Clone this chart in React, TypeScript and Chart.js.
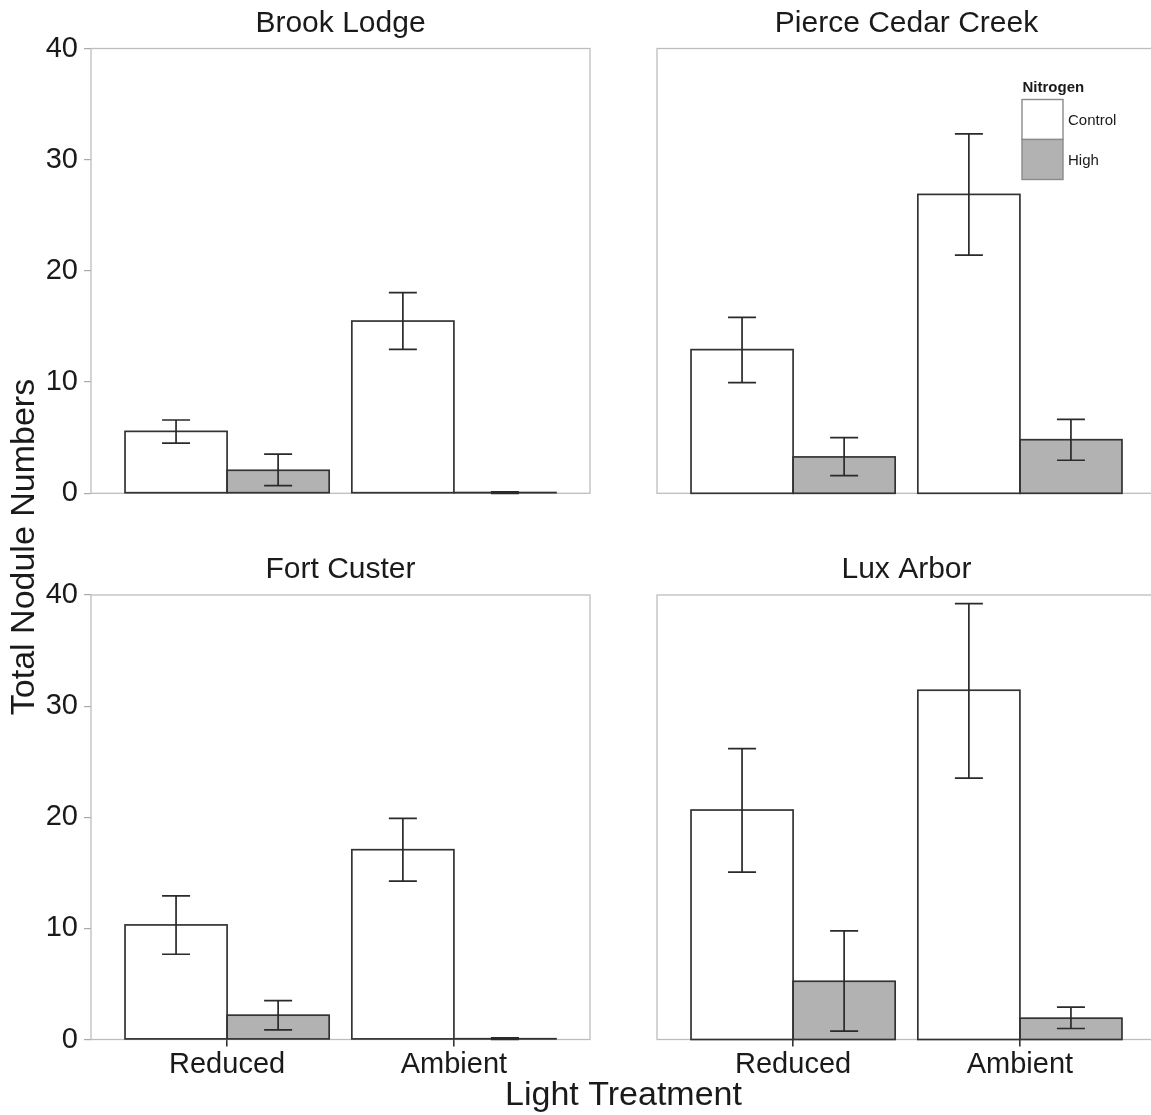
import React, { useEffect, useRef } from 'react';
import { Chart, registerables } from 'chart.js';

Chart.register(...registerables);

// ---------------- data ----------------
const sites = ['Brook Lodge', 'Pierce Cedar Creek', 'Fort Custer', 'Lux Arbor'];
const lightLevels = ['Reduced', 'Ambient'];
const nitrogenLevels = ['Control', 'High'];
const legendTitle = 'Nitrogen';
const xAxisTitle = 'Light Treatment';
const yAxisTitle = 'Total Nodule Numbers';
const yTickStep = 10;
const yMin = 0;
const yMax = 40;

// per site: [Reduced, Ambient]
const controlMean = [[5.57, 15.49], [12.92, 26.88], [10.31, 17.08], [20.65, 31.43]];
const controlLower = [[4.52, 12.94], [9.95, 21.42], [7.67, 14.26], [15.07, 23.52]];
const controlUpper = [[6.59, 18.04], [15.82, 32.33], [12.92, 19.9], [26.18, 39.22]];
const highMean = [[2.07, 0.07], [3.27, 4.82], [2.19, 0.07], [5.24, 1.92]];
const highLower = [[0.69, 0.0], [1.59, 2.97], [0.87, 0.0], [0.75, 0.99]];
const highUpper = [[3.53, 0.14], [5.0, 6.65], [3.5, 0.14], [9.77, 2.91]];

// ---------------- styles / layout ----------------
const FONT = "'Liberation Sans', Arial, Helvetica, sans-serif";
const CW = 1160;
const CH = 1115;
const PANELS = [
  { left: 91, top: 48.5, right: 590, bottom: 493.3 },
  { left: 657, top: 48.5, right: 1156, bottom: 493.3 },
  { left: 91, top: 595, right: 590, bottom: 1039.5 },
  { left: 657, top: 595, right: 1156, bottom: 1039.5 },
];
const Y_AXIS_W = 51;
const X_AXIS_H = 45;
const FILLS = ['#ffffff', '#b2b2b2'];
const OUTLINE = '#333333';
const TEXT = '#1a1a1a';

function makeConfig(i: number): any {
  const p = PANELS[i];
  const showY = i % 2 === 0;
  const showX = i >= 2;
  const means = [controlMean[i], highMean[i]];
  const lowers = [controlLower[i], highLower[i]];
  const uppers = [controlUpper[i], highUpper[i]];

  const framePlugin = {
    id: 'frame' + i,
    beforeDatasetsDraw(chart: any) {
      const { ctx, chartArea: a } = chart;
      ctx.save();
      ctx.strokeStyle = '#bdbdbd';
      ctx.lineWidth = 1.3;
      ctx.strokeRect(a.left, a.top, a.right - a.left, a.bottom - a.top);
      ctx.restore();
    },
  };

  const outlinePlugin = {
    id: 'outline' + i,
    afterDatasetsDraw(chart: any) {
      const { ctx } = chart;
      ctx.save();
      ctx.strokeStyle = OUTLINE;
      ctx.lineWidth = 1.7;
      chart.data.datasets.forEach((_: any, d: number) => {
        const meta = chart.getDatasetMeta(d);
        meta.data.forEach((el: any) => {
          const { x, y, base, width } = el.getProps(['x', 'y', 'base', 'width'], true);
          ctx.strokeRect(x - width / 2, y, width, base - y);
        });
      });
      // error bars
      const ys = chart.scales.y;
      ctx.lineWidth = 1.7;
      ctx.strokeStyle = '#2a2a2a';
      chart.data.datasets.forEach((_: any, d: number) => {
        const meta = chart.getDatasetMeta(d);
        meta.data.forEach((el: any, j: number) => {
          const x = el.x;
          const yl = ys.getPixelForValue(lowers[d][j]);
          const yh = ys.getPixelForValue(uppers[d][j]);
          const cap = 14;
          ctx.beginPath();
          ctx.moveTo(x, yl);
          ctx.lineTo(x, yh);
          ctx.moveTo(x - cap, yl);
          ctx.lineTo(x + cap, yl);
          ctx.moveTo(x - cap, yh);
          ctx.lineTo(x + cap, yh);
          ctx.stroke();
        });
      });
      ctx.restore();
    },
  };

  const titlePlugin = {
    id: 'ptitle' + i,
    afterDraw(chart: any) {
      const { ctx, chartArea: a } = chart;
      ctx.save();
      ctx.fillStyle = TEXT;
      ctx.font = `30px ${FONT}`;
      ctx.textAlign = 'center';
      ctx.textBaseline = 'alphabetic';
      ctx.fillText(sites[i], (a.left + a.right) / 2, a.top - 17);
      ctx.restore();
    },
  };

  const legendPlugin = {
    id: 'legendbox',
    afterDraw(chart: any) {
      const { ctx, chartArea: a } = chart;
      const lx = a.left + 365;
      const ly = a.top + 51;
      ctx.save();
      ctx.fillStyle = TEXT;
      ctx.font = `bold 15px ${FONT}`;
      ctx.textAlign = 'left';
      ctx.textBaseline = 'alphabetic';
      ctx.fillText(legendTitle, lx + 0.5, ly - 7.5);
      nitrogenLevels.forEach((lab, k) => {
        const by = ly + k * 40;
        ctx.fillStyle = FILLS[k];
        ctx.fillRect(lx, by, 41, 40);
        ctx.strokeStyle = '#8a8a8a';
        ctx.lineWidth = 1.4;
        ctx.strokeRect(lx, by, 41, 40);
        ctx.fillStyle = TEXT;
        ctx.font = `15px ${FONT}`;
        ctx.textBaseline = 'middle';
        ctx.fillText(lab, lx + 46, by + 21);
      });
      ctx.restore();
    },
  };

  const axisTitlePlugin = {
    id: 'axistitles',
    afterDraw(chart: any) {
      const { ctx } = chart;
      ctx.save();
      ctx.fillStyle = TEXT;
      ctx.font = `34px ${FONT}`;
      ctx.textAlign = 'center';
      ctx.textBaseline = 'alphabetic';
      ctx.fillText(xAxisTitle, (PANELS[0].left + PANELS[1].right) / 2, 1105);
      ctx.translate(34, (PANELS[0].top + PANELS[2].bottom) / 2 + 3);
      ctx.rotate(-Math.PI / 2);
      ctx.fillText(yAxisTitle, 0, 0);
      ctx.restore();
    },
  };

  const plugins: any[] = [framePlugin, outlinePlugin, titlePlugin];
  if (i === 1) plugins.push(legendPlugin);
  if (i === 2) plugins.push(axisTitlePlugin);

  return {
    type: 'bar',
    data: {
      datasets: nitrogenLevels.map((lab, d) => ({
        label: lab,
        data: lightLevels.map((_, j) => ({ x: j + 1, y: means[d][j] })),
        backgroundColor: FILLS[d],
        borderWidth: 0,
        categoryPercentage: 0.9,
        barPercentage: 1,
      })),
    },
    options: {
      responsive: false,
      animation: false,
      events: [],
      layout: {
        padding: {
          left: p.left - (showY ? Y_AXIS_W : 0),
          top: p.top,
          right: CW - p.right,
          bottom: CH - p.bottom - (showX ? X_AXIS_H : 0),
        },
      },
      plugins: {
        legend: { display: false },
        tooltip: { enabled: false },
        title: { display: false },
      },
      scales: {
        x: {
          type: 'linear',
          min: 0.4,
          max: 2.6,
          offset: false,
          display: showX,
          afterBuildTicks: (s: any) => {
            s.ticks = lightLevels.map((_, j) => ({ value: j + 1 }));
          },
          afterFit: (s: any) => {
            s.height = showX ? X_AXIS_H : 0;
          },
          ticks: {
            callback: (v: any) => lightLevels[Math.round(v) - 1] ?? '',
            font: { family: FONT, size: 29 },
            color: TEXT,
            padding: 1,
            maxRotation: 0,
            autoSkip: false,
          },
          grid: {
            offset: false,
            drawOnChartArea: false,
            drawTicks: true,
            tickLength: 7,
            color: '#333333',
            lineWidth: 1.6,
          },
          border: { display: false },
        },
        y: {
          min: yMin,
          max: yMax,
          display: showY,
          afterFit: (s: any) => {
            s.width = showY ? Y_AXIS_W : 0;
          },
          ticks: {
            stepSize: yTickStep,
            font: { family: FONT, size: 29 },
            color: TEXT,
            padding: 6,
          },
          grid: { drawOnChartArea: false, drawTicks: true, tickLength: 7, color: '#a8a8a8', lineWidth: 1.2 },
          border: { display: false },
        },
      },
    },
    plugins,
  };
}

export default function App() {
  const refs = [
    useRef<HTMLCanvasElement>(null),
    useRef<HTMLCanvasElement>(null),
    useRef<HTMLCanvasElement>(null),
    useRef<HTMLCanvasElement>(null),
  ];

  useEffect(() => {
    const charts = refs.map((r, i) => new Chart(r.current as HTMLCanvasElement, makeConfig(i)));
    return () => charts.forEach((c) => c.destroy());
  }, []);

  return (
    <div
      style={{
        position: 'absolute',
        left: 0,
        top: 0,
        width: 1151,
        height: 1115,
        overflow: 'hidden',
        background: '#ffffff',
      }}
    >
      {refs.map((r, i) => (
        <canvas
          key={i}
          ref={r}
          width={CW}
          height={CH}
          style={{ position: 'absolute', left: 0, top: 0, width: CW, height: CH }}
        />
      ))}
    </div>
  );
}
